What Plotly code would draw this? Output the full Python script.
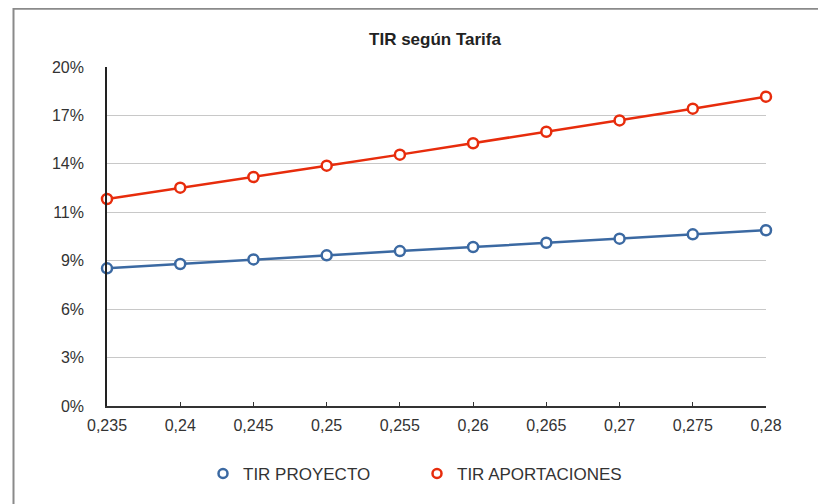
import plotly.graph_objects as go

tarifa = [0.235, 0.24, 0.245, 0.25, 0.255, 0.26, 0.265, 0.27, 0.275, 0.28]
tarifa_labels = ["0,235", "0,24", "0,245", "0,25", "0,255", "0,26", "0,265", "0,27", "0,275", "0,28"]
tir_proyecto = [0.0812, 0.0838, 0.0865, 0.0889, 0.0914, 0.0938, 0.0963, 0.0987, 0.1013, 0.1037]
tir_aportaciones = [0.1221, 0.1288, 0.1351, 0.1418, 0.1483, 0.1550, 0.1618, 0.1685, 0.1754, 0.1825]
y_tickvals = [k * 0.2 / 7 for k in range(8)]
y_ticktext = ["0%", "3%", "6%", "9%", "11%", "14%", "17%", "20%"]

BLUE = "#3b69a2"
RED = "#e72c0c"

# page is offset by the 8px body margin; layout below is worked out in page pixels
OFF = 8
W, H = 826, 504 - OFF
PL, PR, PT, PB = 107, 766, 67, 406  # plot area in page pixels
L, R, T, B = PL - OFF, (W + OFF) - PR, PT - OFF, (H + OFF) - PB
pw, ph = PR - PL, PB - PT

def px(x):
    return (x - PL) / pw

def py(y):
    return (PB - y) / ph

fig = go.Figure()
series = [("TIR PROYECTO", tir_proyecto, BLUE, "legend"),
          ("TIR APORTACIONES", tir_aportaciones, RED, "legend2")]
for name, vals, col, lg in series:
    fig.add_trace(go.Scatter(
        x=tarifa, y=vals, name=name, mode="lines+markers", showlegend=False,
        line=dict(color=col, width=2.5),
        marker=dict(symbol="circle", size=10, color="white",
                    line=dict(color=col, width=2.5)),
        cliponaxis=False,
    ))
    # legend entry (marker only, like the reference)
    fig.add_trace(go.Scatter(
        x=[None], y=[None], name=name, mode="markers", legend=lg,
        marker=dict(symbol="circle", size=9, color="white",
                    line=dict(color=col, width=2.5)),
    ))

legfont = dict(size=17, color="#333333", family="Liberation Sans, Arial, sans-serif")

fig.update_layout(
    width=W, height=H,
    margin=dict(l=L, r=R, t=T, b=B),
    paper_bgcolor="white", plot_bgcolor="white",
    font=dict(family="Liberation Sans, Arial, sans-serif", size=16, color="#333333"),
    title=dict(text="<b>TIR según Tarifa</b>", x=px(435), xref="paper", xanchor="center",
               y=1 - (39 - OFF) / H, yanchor="middle", font=dict(size=17, color="#222222")),
    showlegend=True,
    legend=dict(orientation="h", x=px(203), xanchor="left", y=py(474), yanchor="middle",
                font=legfont, bgcolor="rgba(0,0,0,0)", borderwidth=0),
    legend2=dict(orientation="h", x=px(417), xanchor="left", y=py(474), yanchor="middle",
                 font=legfont, bgcolor="rgba(0,0,0,0)", borderwidth=0),
    xaxis=dict(range=[0.235, 0.28], tickvals=tarifa, ticktext=tarifa_labels,
               showgrid=False, zeroline=False, showline=True, linecolor="#333333", linewidth=1.5,
               ticks="inside", ticklen=4, tickcolor="#333333", tickwidth=1.2,
               ticklabelstandoff=4,
               tickfont=dict(size=16, color="#333333")),
    yaxis=dict(range=[0, 0.2], tickvals=y_tickvals, ticktext=y_ticktext,
               showgrid=True, gridcolor="#c8c8c8", gridwidth=1.3, zeroline=False,
               showline=True, linecolor="#222222", linewidth=1.6, ticks="",
               ticklabelstandoff=18, tickfont=dict(size=16, color="#333333")),
    shapes=[dict(type="path", xref="paper", yref="paper",
                 path=f"M {px(13.5)},{py(520)} L {px(13.5)},{py(8.8)} L {px(850)},{py(8.8)}",
                 line=dict(color="#8a8a8a", width=2), layer="above")],
)

fig.write_html("out.html")
